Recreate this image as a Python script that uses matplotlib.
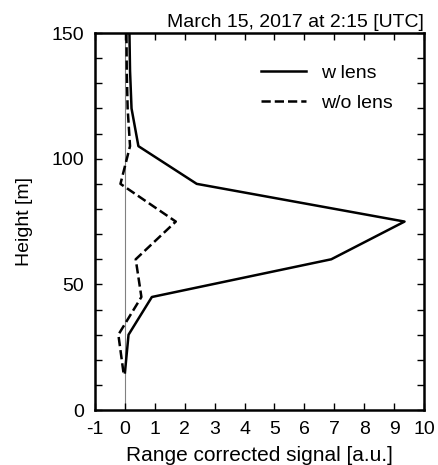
import matplotlib
matplotlib.use('Agg')
import matplotlib.pyplot as plt
from matplotlib.ticker import MultipleLocator

plt.rcParams['font.family'] = ['Liberation Sans', 'DejaVu Sans']
plt.rcParams['font.size'] = 14
plt.rcParams['axes.unicode_minus'] = False

# range corrected signal profiles
height = [15, 30, 45, 60, 75, 90, 105, 120, 135, 150]
w_lens = [0.0, 0.12, 0.9, 6.9, 9.35, 2.4, 0.45, 0.22, 0.17, 0.15]
wo_lens = [-0.05, -0.22, 0.55, 0.36, 1.7, -0.15, 0.17, 0.09, 0.06, 0.05]

fig = plt.figure(figsize=(4.38, 4.65), dpi=100)
ax = fig.add_axes([0.217, 0.118, 0.751, 0.811])

ax.axvline(0, color='gray', lw=0.8, zorder=1)
ax.plot(w_lens, height, 'k-', lw=1.8, label='w lens')
ax.plot(wo_lens, height, 'k--', lw=1.8, label='w/o lens')

ax.set_xlim(-1, 10)
ax.set_ylim(0, 150)
ax.xaxis.set_major_locator(MultipleLocator(1))
ax.yaxis.set_major_locator(MultipleLocator(50))
ax.yaxis.set_minor_locator(MultipleLocator(10))
ax.tick_params(which='both', direction='in', top=True, right=True,
               length=5, width=1, pad=8, labelsize=14)
for s in ax.spines.values():
    s.set_linewidth(1.8)

ax.set_xlabel('Range corrected signal [a.u.]', fontsize=15)
ax.set_ylabel('Height [m]', fontsize=14)
ax.xaxis.set_label_coords(0.5, -0.095)
ax.yaxis.set_label_coords(-0.188, 0.5)
ax.set_title('March 15, 2017 at 2:15 [UTC]', loc='right', pad=4, fontsize=14)
ax.legend(loc='upper right', frameon=False, fontsize=14, handlelength=2.3,
          handletextpad=0.8, borderaxespad=1.2, labelspacing=0.65)

fig.savefig('out.png', dpi=100)
